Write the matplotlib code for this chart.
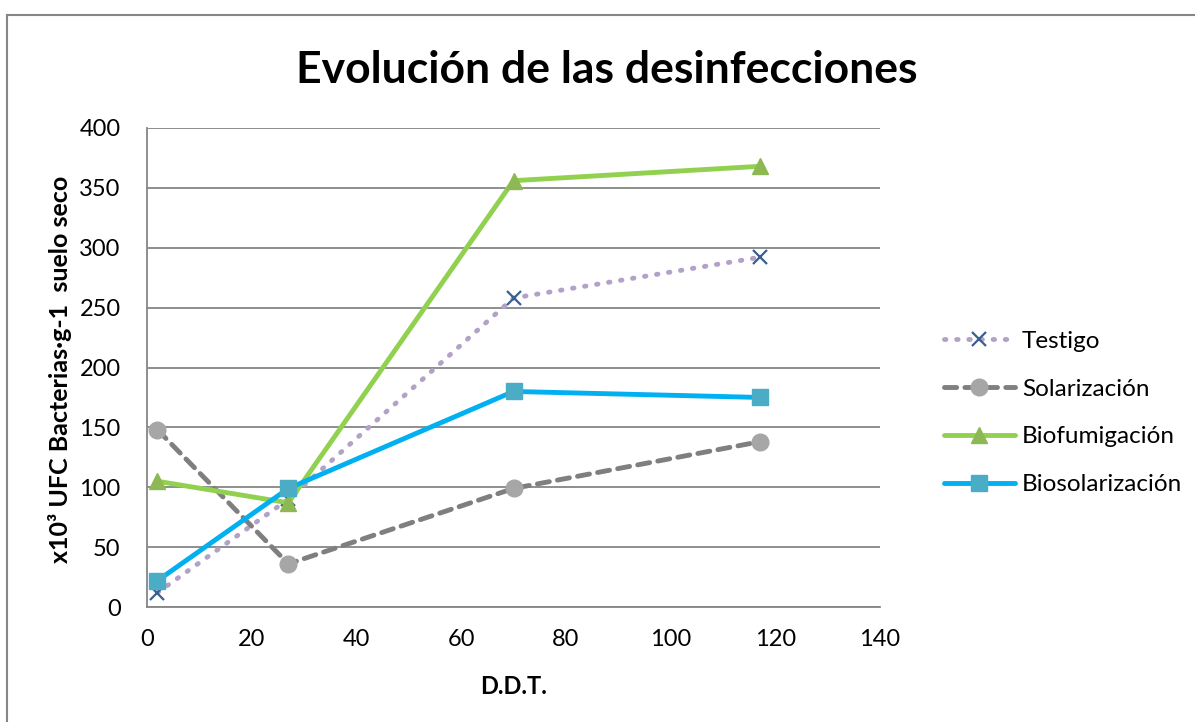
import matplotlib
matplotlib.use("Agg")
import matplotlib.pyplot as plt
from matplotlib.lines import Line2D

days = [2, 27, 70, 117]
testigo = [12, 90, 258, 292]
solarizacion = [148, 36, 99, 138]
biofumigacion = [105, 87, 356, 368]
biosolarizacion = [22, 99, 180, 175]
series_names = ["Testigo", "Solarización", "Biofumigación", "Biosolarización"]
title = "Evolución de las desinfecciones"
xlabel = "D.D.T."
ylabel = "x10³ UFC Bacterias·g-1  suelo seco"
xticks = [0, 20, 40, 60, 80, 100, 120, 140]
yticks = [0, 50, 100, 150, 200, 250, 300, 350, 400]

plt.rcParams['font.family'] = ['Lato', 'DejaVu Sans']

W, H = 1195, 722
fig = plt.figure(figsize=(W / 100, H / 100), dpi=100)
ax = fig.add_axes([147 / W, 1 - 607 / H, (880 - 147) / W, (607 - 128) / H])

gray = "#868686"
ax.plot(days, testigo, linestyle=(0, (0.3, 2.2)), dash_capstyle='round', color="#B3A2C7", lw=3.5,
        marker='x', ms=10, mew=1.6, mec="#3A5F91", mfc="#DCEBF2", label=series_names[0], zorder=3)
ax.plot(days, solarizacion, linestyle=(0, (2.5, 1.7)), dash_capstyle='round', color="#7F7F7F", lw=3.5,
        marker='o', ms=12, mec="#A6A6A6", mfc="#A6A6A6", label=series_names[1], zorder=3)
ax.plot(days, biofumigacion, linestyle='-', color="#92D050", lw=3.5, solid_capstyle='round',
        marker='^', ms=12, mec="#8DB854", mfc="#8DB854", label=series_names[2], zorder=3)
ax.plot(days, biosolarizacion, linestyle='-', color="#00B0F0", lw=3.5, solid_capstyle='round',
        marker='s', ms=12, mec="#4BACC6", mfc="#4BACC6", label=series_names[3], zorder=3)

ax.set_xlim(0, 140)
ax.set_ylim(0, 400)
ax.set_xticks(xticks)
ax.set_yticks(yticks)
ax.grid(axis='y', color=gray, lw=1.3)
ax.set_axisbelow(True)
for s in ['top', 'right']:
    ax.spines[s].set_visible(False)
for s in ['left', 'bottom']:
    ax.spines[s].set_color(gray)
    ax.spines[s].set_linewidth(1.3)
ax.tick_params(length=0, labelsize=17, colors='black')
ax.tick_params(axis='y', pad=19)
ax.tick_params(axis='x', pad=16)

fig.text(607 / W, 1 - 70 / H, title, ha='center', va='center', fontsize=32, fontweight='bold')
fig.text(514 / W, 1 - 686 / H, xlabel, ha='center', va='center', fontsize=17, fontweight='bold')
fig.text(60 / W, 1 - 369 / H, ylabel, ha='center', va='center', rotation=90, fontsize=18, fontweight='bold')

leg = ax.legend(loc='center left', bbox_to_anchor=(932 / W, 1 - 413 / H), bbox_transform=fig.transFigure,
                frameon=False, fontsize=17.5, handlelength=2.9, labelspacing=1.1, handletextpad=0.3, borderpad=0)

fig.add_artist(Line2D([7 / W, 7 / W], [0, 1 - 15 / H], transform=fig.transFigure, color=gray, lw=1.5))
fig.add_artist(Line2D([7 / W, 1], [1 - 15 / H, 1 - 15 / H], transform=fig.transFigure, color=gray, lw=1.5))

fig.savefig("out.png", dpi=100)
